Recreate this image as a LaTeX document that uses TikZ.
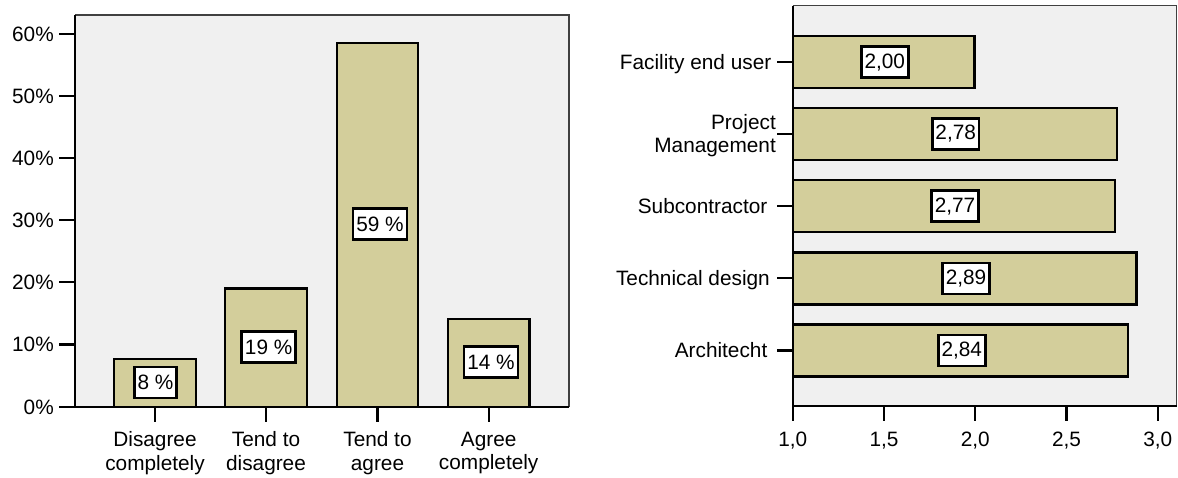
\documentclass[tikz,border=0pt]{standalone}
\usepackage{fontspec}
\setmainfont{Liberation Sans}
\definecolor{barfill}{HTML}{D3CE9B}
\definecolor{plotbg}{HTML}{F0F0F0}
\definecolor{framegray}{HTML}{404040}
\begin{document}
\begin{tikzpicture}[x=1pt,y=-1pt,
  lbl/.style={font=\fontsize{20.8}{23.5}\selectfont, inner sep=0pt},
  valbox/.style={draw=black, line width=2.6pt, fill=white, font=\fontsize{20.8}{23}\selectfont,
                 minimum height=31pt, inner xsep=3.2pt, inner ysep=0pt},
  barbox/.style={draw=black, line width=2.4pt, fill=barfill},
  axisline/.style={line width=2.2pt, black},
  frameline/.style={line width=1.5pt, framegray},
]
\useasboundingbox (0,0) rectangle (1178,477);

% ---------------- left chart ----------------
\fill[plotbg] (75,15) rectangle (569,406.7);
\draw[frameline] (75,15) -- (569,15) -- (569,406.7);

\draw[barbox] (113.9,406.7) rectangle (196.1,359);
\draw[barbox] (225.2,406.7) rectangle (307.1,288.5);
\draw[barbox] (336.9,406.7) rectangle (418.1,43.2);
\draw[barbox] (447.9,406.7) rectangle (529.5,318.9);

\draw[axisline] (75,15) -- (75,406.7) -- (569,406.7);

\foreach \v/\t in {0/0\%,1/10\%,2/20\%,3/30\%,4/40\%,5/50\%,6/60\%} {
  \pgfmathsetmacro\yy{406.7-\v*62.17}
  \draw[axisline] (59,\yy) -- (75,\yy);
  \node[lbl, anchor=base east] (yl\v) at (54,\yy+7.4) {\t};
}

\foreach \c in {155,266,377.5,488.7}
  \draw[axisline] (\c,406.7) -- (\c,422.3);

\node[valbox] (v1) at (155.5,382.3) {8 \%};
\node[valbox] (v2) at (268.7,347.2) {19 \%};
\node[valbox] (v3) at (380,224) {59 \%};
\node[valbox] (v4) at (491,362.2) {14 \%};

\node[lbl, align=center, anchor=north] (x1) at (155,431.7) {Disagree\\completely};
\node[lbl, align=center, anchor=north] (x2) at (266,431.7) {Tend to\\disagree};
\node[lbl, align=center, anchor=north] (x3) at (377.5,431.7) {Tend to\\agree};
\node[lbl, align=center, anchor=north] (x4) at (488.7,431.7) {Agree\\completely};

% ---------------- right chart ----------------
\fill[plotbg] (792.7,5.7) rectangle (1176.7,406);
\draw[frameline] (792.7,5.7) -- (1176.7,5.7) -- (1176.7,406);

\draw[barbox] (792.7,35.9) rectangle (974.4,87.8);
\draw[barbox] (792.7,108.1) rectangle (1116.7,160);
\draw[barbox] (792.7,180.2) rectangle (1114.9,232.1);
\draw[barbox] (792.7,252.4) rectangle (1136.4,304.3);
\draw[barbox] (792.7,324.5) rectangle (1127.7,376.4);

\draw[axisline] (792.7,5.7) -- (792.7,406) -- (1176.7,406);

\foreach \k/\t in {0/{1,0},1/{1,5},2/{2,0},3/{2,5},4/{3,0}} {
  \pgfmathsetmacro\xx{792.7+\k*91.25}
  \draw[axisline] (\xx,406) -- (\xx,420.7);
  \node[lbl, anchor=base] (xt\k) at (\xx,446.5) {\t};
}

\foreach \yy in {61.9,134,206.1,278.3,350.4}
  \draw[axisline] (777.3,\yy) -- (792.7,\yy);

\node[lbl, anchor=base east] (r1) at (771.5,69.6) {Facility end user};
\node[lbl, align=right, anchor=east] (r2) at (776,135.7) {Project\\Management};
\node[lbl, anchor=base east] (r3) at (767.5,213.6) {Subcontractor};
\node[lbl, anchor=base east] (r4) at (770,285.8) {Technical design};
\node[lbl, anchor=base east] (r5) at (767.5,357.9) {Architecht};

\node[valbox] (b1) at (884.8,62.2) {2,00};
\node[valbox] (b2) at (955.7,134) {2,78};
\node[valbox] (b3) at (955,206.1) {2,77};
\node[valbox] (b4) at (966,278.3) {2,89};
\node[valbox] (b5) at (961.8,350.4) {2,84};
\end{tikzpicture}
\end{document}
